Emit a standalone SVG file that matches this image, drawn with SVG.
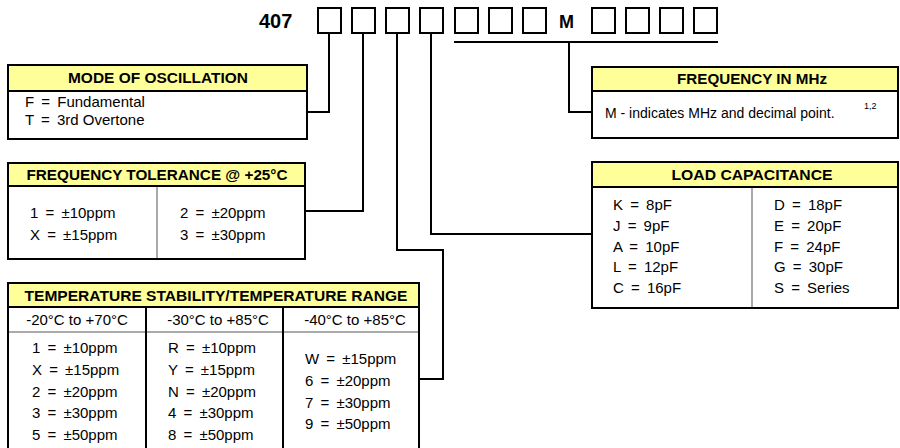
<svg xmlns="http://www.w3.org/2000/svg" width="900" height="448" viewBox="0 0 900 448">
<style>
.box{fill:#fff;stroke:#000;stroke-width:2}
.hdr{fill:#ffff99;stroke:#000;stroke-width:2}
.slot{fill:#fff;stroke:#000;stroke-width:2}
.ln{fill:none;stroke:#000;stroke-width:2}
.gray{fill:none;stroke:#aaa;stroke-width:2}
.ht{font-family:"Liberation Sans",Arial,sans-serif;font-weight:bold;font-size:14px;text-anchor:middle;fill:#000}
.bt{font-family:"Liberation Sans",Arial,sans-serif;font-size:15px;fill:#000}
.eq{word-spacing:3px}
.mid{text-anchor:middle}
.big{font-family:"Liberation Sans",Arial,sans-serif;font-weight:bold;font-size:20px;fill:#000}
</style>
<rect width="900" height="448" fill="#fff"/>
<g id="partnumber">
<text class="big" x="259" y="28">407</text>
<rect class="slot" x="318" y="8" width="23" height="25"/>
<rect class="slot" x="352" y="8" width="23" height="25"/>
<rect class="slot" x="386" y="8" width="23" height="25"/>
<rect class="slot" x="420" y="8" width="23" height="25"/>
<rect class="slot" x="455" y="8" width="23" height="25"/>
<rect class="slot" x="489" y="8" width="23" height="25"/>
<rect class="slot" x="523" y="8" width="23" height="25"/>
<text class="big mid" x="566.5" y="28" style="font-size:18px">M</text>
<rect class="slot" x="592" y="8" width="23" height="25"/>
<rect class="slot" x="626" y="8" width="23" height="25"/>
<rect class="slot" x="660" y="8" width="23" height="25"/>
<rect class="slot" x="694" y="8" width="23" height="25"/>
</g>
<g id="connectors">
<path class="ln" d="M329,33 V112 H307"/>
<path class="ln" d="M363,33 V211 H305"/>
<path class="ln" d="M397,33 V250 H443 V379 H419"/>
<path class="ln" d="M431,33 V234 H592"/>
<path class="ln" d="M454,42 H718 M569,42 V112 H592"/>
</g>
<g id="mode">
<rect class="box" x="8" y="65" width="299" height="74"/>
<rect class="hdr" x="8" y="65" width="299" height="26"/>
<text class="ht" x="158" y="83" textLength="180" lengthAdjust="spacingAndGlyphs">MODE OF OSCILLATION</text>
<text class="bt eq" x="25" y="107">F = Fundamental</text>
<text class="bt" x="25" y="125">T <tspan dx="3">=</tspan><tspan dx="3"> 3rd Overtone</tspan></text>
</g>
<g id="tolerance">
<rect class="box" x="8" y="163" width="297" height="96"/>
<rect class="hdr" x="8" y="163" width="297" height="23"/>
<line class="gray" x1="157" y1="187" x2="157" y2="258"/>
<text class="ht" x="157" y="180" textLength="261" lengthAdjust="spacingAndGlyphs">FREQUENCY TOLERANCE @ +25°C</text>
<text class="bt eq" x="30" y="218">1 = ±10ppm</text>
<text class="bt eq" x="30" y="240">X = ±15ppm</text>
<text class="bt eq" x="180" y="218">2 = ±20ppm</text>
<text class="bt eq" x="180" y="240">3 = ±30ppm</text>
</g>
<g id="stability">
<rect class="box" x="8" y="283" width="411" height="180"/>
<rect class="hdr" x="8" y="283" width="411" height="24"/>
<text class="ht" x="216" y="301" textLength="383" lengthAdjust="spacingAndGlyphs">TEMPERATURE STABILITY/TEMPERATURE RANGE</text>
<line class="gray" x1="9" y1="332" x2="418" y2="332"/>
<line class="ln" x1="146" y1="307" x2="146" y2="460"/>
<line class="ln" x1="283" y1="307" x2="283" y2="460"/>
<text class="bt mid" x="77" y="325">-20°C to +70°C</text>
<text class="bt mid" x="218" y="325">-30°C to +85°C</text>
<text class="bt mid" x="355" y="325">-40°C to +85°C</text>
<text class="bt eq" x="32" y="353">1 = ±10ppm</text>
<text class="bt eq" x="32" y="375">X = ±15ppm</text>
<text class="bt eq" x="32" y="397">2 = ±20ppm</text>
<text class="bt eq" x="32" y="418">3 = ±30ppm</text>
<text class="bt eq" x="32" y="440">5 = ±50ppm</text>
<text class="bt eq" x="168" y="353">R = ±10ppm</text>
<text class="bt eq" x="168" y="375">Y = ±15ppm</text>
<text class="bt eq" x="168" y="397">N = ±20ppm</text>
<text class="bt eq" x="168" y="418">4 = ±30ppm</text>
<text class="bt eq" x="168" y="440">8 = ±50ppm</text>
<text class="bt eq" x="305" y="364">W = ±15ppm</text>
<text class="bt eq" x="305" y="386">6 = ±20ppm</text>
<text class="bt eq" x="305" y="408">7 = ±30ppm</text>
<text class="bt eq" x="305" y="429">9 = ±50ppm</text>
</g>
<g id="frequency">
<rect class="box" x="592" y="67" width="306" height="71"/>
<rect class="hdr" x="592" y="67" width="306" height="24"/>
<text class="ht" x="752" y="84" textLength="150" lengthAdjust="spacingAndGlyphs">FREQUENCY IN MHz</text>
<text class="bt" x="605" y="118" style="font-size:14px">M - indicates MHz and decimal point.</text>
<text x="864" y="109" font-family="Liberation Sans,Arial,sans-serif" font-size="9">1,2</text>
</g>
<g id="load">
<rect class="box" x="592" y="162" width="306" height="146"/>
<rect class="hdr" x="592" y="162" width="306" height="25"/>
<line class="gray" x1="752" y1="188" x2="752" y2="307"/>
<text class="ht" x="752" y="180" textLength="161" lengthAdjust="spacingAndGlyphs">LOAD CAPACITANCE</text>
<text class="bt eq" x="613" y="210">K = 8pF</text>
<text class="bt eq" x="613" y="231">J = 9pF</text>
<text class="bt eq" x="613" y="252">A = 10pF</text>
<text class="bt eq" x="613" y="272">L = 12pF</text>
<text class="bt eq" x="613" y="293">C = 16pF</text>
<text class="bt eq" x="774" y="210">D = 18pF</text>
<text class="bt eq" x="774" y="231">E = 20pF</text>
<text class="bt eq" x="774" y="252">F = 24pF</text>
<text class="bt eq" x="774" y="272">G = 30pF</text>
<text class="bt eq" x="774" y="293">S = Series</text>
</g>
</svg>
